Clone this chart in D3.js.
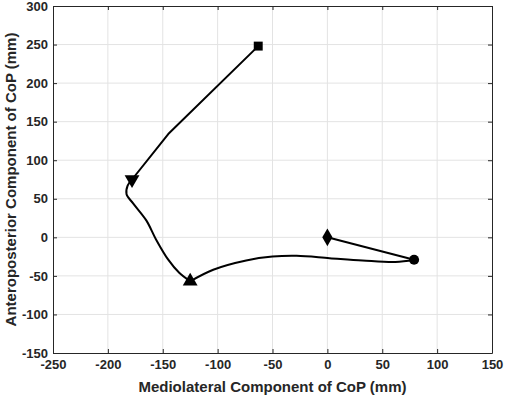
<!DOCTYPE html>
<html>
<head>
<meta charset="utf-8">
<script src="https://cdn.jsdelivr.net/npm/d3@7"></script>
<style>
	body { margin: 0; background: #fff; }
	text { font-family: "Liberation Sans", Arial, sans-serif; font-weight: bold; fill: #262626; }
</style>
</head>
<body>
<svg id="chart"></svg>
<script>
// CoP trajectory (mm), split where the path has a corner
const segLinearA = [[0, 0], [79, -29]];
const segCurveB = [[79, -29], [62, -32], [32, -30], [2, -27], [-28, -24], [-50, -25], [-74, -30], [-104, -42], [-125, -57]];
const segCurveC = [[-125, -57], [-135, -46], [-145, -29], [-156, -3], [-165, 22], [-177, 44], [-183, 56], [-182, 67], [-178, 75]];
const segLinearD = [[-178, 75], [-145, 134], [-63, 248]];

// marker points along the trajectory
const markerML = [0, 79, -125, -178, -63];
const markerAP = [0, -29, -57, 75, 248];
const markerShapes = ['diamond', 'circle', 'triUp', 'triDown', 'square'];

const xTicks = [-250, -200, -150, -100, -50, 0, 50, 100, 150];
const yTicks = [-150, -100, -50, 0, 50, 100, 150, 200, 250, 300];

const width = 505;
const height = 397;
const margin = { top: 6, right: 13, bottom: 44, left: 53 };

const svg = d3.select('#chart')
	.attr('width', width)
	.attr('height', height);

const x = d3.scaleLinear().domain([-250, 150]).range([margin.left, width - margin.right]);
const y = d3.scaleLinear().domain([-150, 300]).range([height - margin.bottom, margin.top]);

const plotW = width - margin.left - margin.right;
const plotH = height - margin.top - margin.bottom;

// grid
svg.append('g')
	.selectAll('line')
	.data(xTicks.slice(1, -1))
	.enter()
	.append('line')
	.attr('x1', d => x(d)).attr('x2', d => x(d))
	.attr('y1', margin.top).attr('y2', height - margin.bottom)
	.attr('stroke', '#e3e3e3').attr('stroke-width', 1);

svg.append('g')
	.selectAll('line')
	.data(yTicks.slice(1, -1))
	.enter()
	.append('line')
	.attr('y1', d => y(d)).attr('y2', d => y(d))
	.attr('x1', margin.left).attr('x2', width - margin.right)
	.attr('stroke', '#e3e3e3').attr('stroke-width', 1);

// axes (ticks inward, box all round)
const fmt = d => String(d);

function styleAxis(g) {
	g.attr('font-family', null).attr('font-size', null);
	g.select('.domain').attr('stroke', '#262626');
	g.selectAll('.tick line').attr('stroke', '#262626');
	g.selectAll('.tick text')
		.style('font-size', '13px')
		.style('font-weight', 'bold')
		.attr('fill', '#262626');
}

svg.append('g')
	.attr('transform', `translate(0,${height - margin.bottom})`)
	.call(d3.axisBottom(x).tickValues(xTicks).tickFormat(fmt).tickSizeInner(-4).tickSizeOuter(0).tickPadding(7))
	.call(styleAxis);

svg.append('g')
	.attr('transform', `translate(0,${margin.top})`)
	.call(d3.axisTop(x).tickValues(xTicks).tickSizeInner(-4).tickSizeOuter(0).tickFormat(''))
	.call(styleAxis);

svg.append('g')
	.attr('transform', `translate(${margin.left},0)`)
	.call(d3.axisLeft(y).tickValues(yTicks).tickFormat(fmt).tickSizeInner(-4).tickSizeOuter(0).tickPadding(5))
	.call(styleAxis);

svg.append('g')
	.attr('transform', `translate(${width - margin.right},0)`)
	.call(d3.axisRight(y).tickValues(yTicks).tickSizeInner(-4).tickSizeOuter(0).tickFormat(''))
	.call(styleAxis);

// trajectory
const smooth = d3.line()
	.x(d => x(d[0]))
	.y(d => y(d[1]))
	.curve(d3.curveCatmullRom.alpha(0.5));

const straight = d3.line()
	.x(d => x(d[0]))
	.y(d => y(d[1]));

[[segLinearA, straight], [segCurveB, smooth], [segCurveC, smooth], [segLinearD, straight]].forEach(([seg, gen]) => {
	svg.append('path')
		.datum(seg)
		.attr('d', gen)
		.attr('fill', 'none')
		.attr('stroke', '#000')
		.attr('stroke-width', 2)
		.attr('stroke-linejoin', 'round');
});

// markers
const shapeMap = {
	diamond: { type: d3.symbolDiamond, size: 90 },
	circle: { type: d3.symbolCircle, size: 80 },
	triUp: { type: d3.symbolTriangle, size: 95 },
	triDown: { type: d3.symbolTriangle, size: 95, rotate: 180 },
	square: { type: d3.symbolSquare, size: 80 },
};

svg.append('g')
	.selectAll('path')
	.data(markerML.map((d, i) => ({ ml: d, ap: markerAP[i], shape: markerShapes[i] })))
	.enter()
	.append('path')
	.attr('d', d => d3.symbol().type(shapeMap[d.shape].type).size(shapeMap[d.shape].size)())
	.attr('transform', d => `translate(${x(d.ml)},${y(d.ap)}) rotate(${shapeMap[d.shape].rotate || 0})`)
	.attr('fill', '#000');

// labels
svg.append('text')
	.attr('x', margin.left + plotW / 2)
	.attr('y', 392)
	.attr('text-anchor', 'middle')
	.style('font-size', '15px')
	.text('Mediolateral Component of CoP (mm)');

svg.append('text')
	.attr('transform', `translate(16,${margin.top + plotH / 2}) rotate(-90)`)
	.attr('text-anchor', 'middle')
	.style('font-size', '15px')
	.text('Anteroposterior Component of CoP (mm)');
</script>
</body>
</html>
